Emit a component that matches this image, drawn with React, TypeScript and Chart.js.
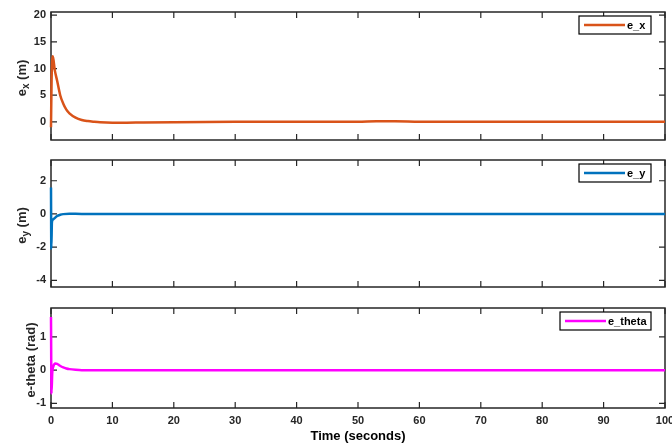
import React, { useEffect, useRef } from "react";
import { Chart, registerables } from "chart.js";

Chart.register(...registerables);

// ---------- data ----------
const xTicks = [0, 10, 20, 30, 40, 50, 60, 70, 80, 90, 100];

const tEx = [0, 0.1, 0.3, 0.6, 1, 1.5, 2, 2.5, 3, 4, 5, 6, 7, 8, 10, 12, 15, 20, 30, 40, 50, 53, 56, 60, 70, 80, 90, 100];
const ex = [-1, 8, 12.3, 9.8, 7.7, 5.0, 3.4, 2.3, 1.6, 0.8, 0.36, 0.15, 0.02, -0.08, -0.15, -0.15, -0.1, -0.05, 0, 0, 0, 0.1, 0.1, 0.02, 0, 0, 0, 0];

const tEy = [0, 0.05, 0.15, 0.3, 0.6, 1, 1.5, 2, 3, 5, 10, 20, 50, 100];
const ey = [1.6, -2.1, -0.5, -0.35, -0.25, -0.12, -0.05, -0.01, 0.01, 0, 0, 0, 0, 0];

const tEt = [0, 0.08, 0.2, 0.4, 0.7, 1, 1.4, 2, 2.5, 3, 4, 5, 7, 10, 20, 50, 100];
const et = [1.6, -0.7, -0.1, 0.12, 0.2, 0.19, 0.14, 0.08, 0.05, 0.03, 0.01, 0, 0, 0, 0, 0, 0];

const yTicksEx = [0, 5, 10, 15, 20];
const yTicksEy = [-4, -2, 0, 2];
const yTicksEt = [-1, 0, 1];

const yRangeEx = [-3.4, 20.6];
const yRangeEy = [-4.4, 3.25];
const yRangeEt = [-1.14, 1.87];

const legendEx = "e_x";
const legendEy = "e_y";
const legendEt = "e_theta";

const xTitle = "Time (seconds)";

// ---------- style ----------
const FONT = "'Liberation Sans', Arial, Helvetica, sans-serif";
const AXIS = "#262626";

type Seg = { t: string; sub?: boolean };

type PanelProps = {
  top: number;
  height: number;
  padTop: number;
  padBottom: number;
  showX: boolean;
  t: number[];
  v: number[];
  color: string;
  yTicks: number[];
  yRange: number[];
  legend: string;
  legendWidth: number;
  yLabel: Seg[];
  yLabelX: number;
};

function Panel(p: PanelProps) {
  const ref = useRef<HTMLCanvasElement | null>(null);
  useEffect(() => {
    if (!ref.current) return;
    const decor = {
      id: "decor",
      beforeDatasetsDraw(chart: any) {
        const { ctx, chartArea: a, scales } = chart;
        const xs = scales.x;
        const ys = scales.y;
        ctx.save();
        // frame
        ctx.strokeStyle = AXIS;
        ctx.lineWidth = 1.5;
        ctx.strokeRect(a.left, a.top, a.right - a.left, a.bottom - a.top);
        // inward ticks
        ctx.lineWidth = 1.2;
        ctx.beginPath();
        xTicks.forEach((v) => {
          const px = xs.getPixelForValue(v);
          ctx.moveTo(px, a.bottom);
          ctx.lineTo(px, a.bottom - 6);
          ctx.moveTo(px, a.top);
          ctx.lineTo(px, a.top + 6);
        });
        p.yTicks.forEach((v) => {
          const py = ys.getPixelForValue(v);
          ctx.moveTo(a.left, py);
          ctx.lineTo(a.left + 6, py);
          ctx.moveTo(a.right, py);
          ctx.lineTo(a.right - 6, py);
        });
        ctx.stroke();
        ctx.restore();
      },
      afterDraw(chart: any) {
        const { ctx, chartArea: a } = chart;
        ctx.save();
        // legend
        const bw = p.legendWidth;
        const bh = 18;
        const bx = a.right - 14 - bw;
        const by = a.top + 4;
        ctx.fillStyle = "#ffffff";
        ctx.fillRect(bx, by, bw, bh);
        ctx.strokeStyle = "#000000";
        ctx.lineWidth = 1.2;
        ctx.strokeRect(bx, by, bw, bh);
        ctx.strokeStyle = p.color;
        ctx.lineWidth = 2.5;
        ctx.beginPath();
        ctx.moveTo(bx + 5, by + bh / 2);
        ctx.lineTo(bx + 46, by + bh / 2);
        ctx.stroke();
        ctx.fillStyle = "#000000";
        ctx.font = `bold 11px ${FONT}`;
        ctx.textBaseline = "middle";
        ctx.textAlign = "left";
        ctx.fillText(p.legend, bx + 48, by + bh / 2 + 1);

        // y label (rotated, with optional subscript)
        const mainFont = `bold 13px ${FONT}`;
        const subFont = `bold 10px ${FONT}`;
        let total = 0;
        p.yLabel.forEach((s) => {
          ctx.font = s.sub ? subFont : mainFont;
          total += ctx.measureText(s.t).width;
        });
        ctx.save();
        ctx.translate(p.yLabelX, (a.top + a.bottom) / 2 + 2);
        ctx.rotate(-Math.PI / 2);
        ctx.fillStyle = AXIS;
        ctx.textAlign = "left";
        ctx.textBaseline = "middle";
        let cx = -total / 2;
        p.yLabel.forEach((s) => {
          ctx.font = s.sub ? subFont : mainFont;
          ctx.fillText(s.t, cx, s.sub ? 4 : 0);
          cx += ctx.measureText(s.t).width;
        });
        ctx.restore();

        // x title
        if (p.showX) {
          ctx.font = `bold 13px ${FONT}`;
          ctx.fillStyle = "#000000";
          ctx.textAlign = "center";
          ctx.textBaseline = "middle";
          ctx.fillText(xTitle, (a.left + a.right) / 2, a.bottom + 28);
        }
        ctx.restore();
      },
    };

    const chart = new Chart(ref.current, {
      type: "line",
      data: {
        datasets: [
          {
            data: p.t.map((x, i) => ({ x, y: p.v[i] })),
            borderColor: p.color,
            borderWidth: 2.5,
            pointRadius: 0,
            fill: false,
            clip: 3,
            cubicInterpolationMode: "monotone",
          },
        ],
      },
      options: {
        responsive: false,
        animation: false,
        events: [],
        layout: { padding: { top: p.padTop, bottom: p.showX ? 0 : p.padBottom, left: 0, right: 7 } },
        plugins: { legend: { display: false }, tooltip: { enabled: false }, title: { display: false } },
        scales: {
          x: {
            type: "linear",
            min: 0,
            max: 100,
            display: p.showX,
            afterBuildTicks: (s: any) => {
              s.ticks = xTicks.map((v) => ({ value: v }));
            },
            afterFit: (s: any) => {
              if (p.showX) s.height = p.padBottom;
              s.paddingLeft = 0;
              s.paddingRight = 0;
            },
            grid: { display: false, drawTicks: false },
            border: { display: false },
            ticks: {
              font: { family: FONT, size: 11, weight: "bold" },
              color: AXIS,
              padding: 6,
              maxRotation: 0,
              autoSkip: false,
            },
          },
          y: {
            type: "linear",
            min: p.yRange[0],
            max: p.yRange[1],
            afterBuildTicks: (s: any) => {
              s.ticks = p.yTicks.map((v) => ({ value: v }));
            },
            afterFit: (s: any) => {
              s.width = 51;
              s.paddingTop = 0;
              s.paddingBottom = 0;
            },
            grid: { display: false, drawTicks: false },
            border: { display: false },
            ticks: {
              font: { family: FONT, size: 11, weight: "bold" },
              color: AXIS,
              padding: 5,
            },
          },
        },
      },
      plugins: [decor],
    } as any);
    return () => chart.destroy();
  }, []);
  return (
    <canvas
      ref={ref}
      width={672}
      height={p.height}
      style={{ position: "absolute", left: 0, top: p.top, display: "block", width: 672, height: p.height }}
    />
  );
}

export default function App() {
  return (
    <div style={{ position: "absolute", left: 0, top: 0, width: 672, height: 447, background: "#ffffff", overflow: "hidden" }}>
      <Panel
        top={0}
        height={150}
        padTop={12}
        padBottom={10}
        showX={false}
        t={tEx}
        v={ex}
        color="#D95319"
        yTicks={yTicksEx}
        yRange={yRangeEx}
        legend={legendEx}
        legendWidth={72}
        yLabel={[{ t: "e" }, { t: "x", sub: true }, { t: " (m)" }]}
        yLabelX={22}
      />
      <Panel
        top={150}
        height={150}
        padTop={10}
        padBottom={13}
        showX={false}
        t={tEy}
        v={ey}
        color="#0072BD"
        yTicks={yTicksEy}
        yRange={yRangeEy}
        legend={legendEy}
        legendWidth={72}
        yLabel={[{ t: "e" }, { t: "y", sub: true }, { t: " (m)" }]}
        yLabelX={22}
      />
      <Panel
        top={300}
        height={147}
        padTop={8}
        padBottom={39}
        showX={true}
        t={tEt}
        v={et}
        color="#FF00FF"
        yTicks={yTicksEt}
        yRange={yRangeEt}
        legend={legendEt}
        legendWidth={91}
        yLabel={[{ t: "e-theta (rad)" }]}
        yLabelX={31}
      />
    </div>
  );
}
